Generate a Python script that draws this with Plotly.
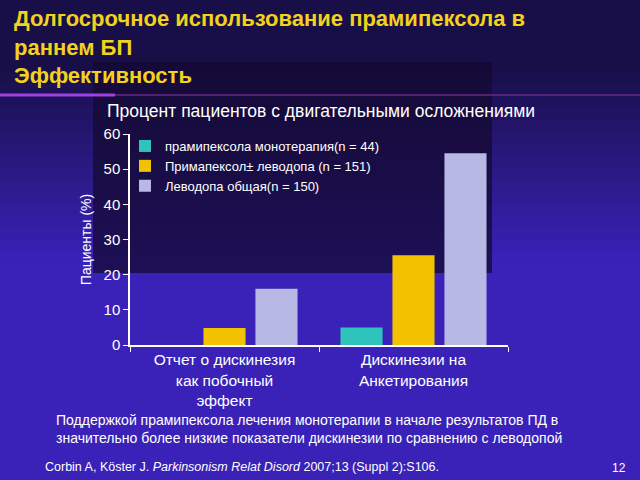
import plotly.graph_objects as go

categories = ["Отчет о дискинезия<br>как побочный<br>эффект", "Дискинезии на<br>Анкетирования"]
series_names = ["прамипексола монотерапия(n = 44)", "Примапексол± леводопа (n = 151)", "Леводопа общая(n = 150)"]
mono_vals = [0, 5]
combo_vals = [4.8, 25.5]
levo_vals = [16, 54.5]
series_colors = ["#2ec4bc", "#f2c200", "#b8b8e4"]
y_ticks = [0, 10, 20, 30, 40, 50, 60]

fig = go.Figure()
for name, vals, col in zip(series_names, [mono_vals, combo_vals, levo_vals], series_colors):
    fig.add_trace(go.Bar(x=categories, y=vals, name=name, marker=dict(color=col, line=dict(width=0))))

W, H = 640, 480
l, r, t, b = 130, 132, 134, 135
pw, ph = W - l - r, H - t - b

def px_x(x):
    return (x - l) / pw

def px_y(y):
    return (H - b - y) / ph

c0 = (0x19, 0x0f, 0x48)
c1 = (0x3a, 0x22, 0xb8)
n = 40
shapes = []
for i in range(n):
    y_top = i * H / n
    y_bot = (i + 1) * H / n
    tcen = (y_top + y_bot) / 2 / H
    tt = min(1.0, max(0.0, (tcen - 0.14) / 0.4))
    c = tuple(int(c0[k] + (c1[k] - c0[k]) * tt) for k in range(3))
    shapes.append(dict(type="rect", xref="paper", yref="paper", layer="below",
                       x0=px_x(0), x1=px_x(W), y0=px_y(y_bot + 1), y1=px_y(y_top),
                       line=dict(width=0), fillcolor="rgb(%d,%d,%d)" % c))
shapes.append(dict(type="rect", xref="paper", yref="paper", layer="below",
                   x0=px_x(93), x1=px_x(492), y0=px_y(273), y1=px_y(62),
                   line=dict(width=0), fillcolor="rgba(20,10,50,0.75)"))
shapes.append(dict(type="line", xref="paper", yref="paper", layer="below",
                   x0=px_x(0), x1=px_x(115), y0=px_y(95), y1=px_y(95),
                   line=dict(width=3, color="#a040e0")))
shapes.append(dict(type="line", xref="paper", yref="paper", layer="below",
                   x0=px_x(115), x1=px_x(640), y0=px_y(95), y1=px_y(95),
                   line=dict(width=2, color="rgba(120,50,150,0.6)")))

annotations = [
    dict(text="<b>Долгосрочное использование прамипексола в<br>раннем БП<br>Эффективность</b>",
         xref="paper", yref="paper", x=px_x(12), y=px_y(4), xanchor="left", yanchor="top",
         align="left", showarrow=False,
         font=dict(family="Liberation Sans", size=22, color="#f2d21c")),
    dict(text="Процент пациентов с двигательными осложнениями",
         xref="paper", yref="paper", x=px_x(321), y=px_y(111), xanchor="center", yanchor="middle",
         showarrow=False, font=dict(family="Liberation Sans", size=17.5, color="white")),
    dict(text="Поддержкой прамипексола лечения монотерапии в начале результатов ПД в<br>значительно более низкие показатели дискинезии по сравнению с леводопой",
         xref="paper", yref="paper", x=px_x(54), y=px_y(410), xanchor="left", yanchor="top",
         align="left", showarrow=False,
         font=dict(family="Liberation Sans", size=14, color="white")),
    dict(text="Corbin A, Köster J. <i>Parkinsonism Relat Disord</i> 2007;13 (Suppl 2):S106.",
         xref="paper", yref="paper", x=px_x(43), y=px_y(467), xanchor="left", yanchor="middle",
         showarrow=False, font=dict(family="Liberation Sans", size=12.5, color="white")),
    dict(text="12", xref="paper", yref="paper", x=px_x(628), y=px_y(468), xanchor="right", yanchor="middle",
         showarrow=False, font=dict(family="Liberation Sans", size=12, color="white")),
]

fig.update_layout(
    width=W, height=H,
    margin=dict(l=l, r=r, t=t, b=b),
    paper_bgcolor="#2a1890", plot_bgcolor="rgba(0,0,0,0)",
    barmode="group", bargap=0.175, bargroupgap=0.19,
    showlegend=True,
    legend=dict(x=px_x(125), y=px_y(131), xanchor="left", yanchor="top",
                bgcolor="rgba(0,0,0,0)", borderwidth=0, tracegroupgap=0, itemwidth=30,
                font=dict(family="Liberation Sans", size=13, color="white")),
    font=dict(family="Liberation Sans", color="white"),
    shapes=shapes, annotations=annotations,
    xaxis=dict(showline=True, linecolor="white", linewidth=1.5, ticks="outside", tickson="boundaries",
               ticklen=5, tickcolor="white", showgrid=False,
               tickfont=dict(family="Liberation Sans", size=15.5, color="white")),
    yaxis=dict(range=[0, 60], tickvals=y_ticks, showline=True, linecolor="white", linewidth=1.5,
               ticks="outside", ticklen=5, tickcolor="white", showgrid=False, zeroline=False,
               tickfont=dict(family="Liberation Sans", size=15, color="white"),
               title=dict(text="Пациенты (%)", standoff=9,
                          font=dict(family="Liberation Sans", size=14, color="white"))),
)

fig.write_html("out.html")
